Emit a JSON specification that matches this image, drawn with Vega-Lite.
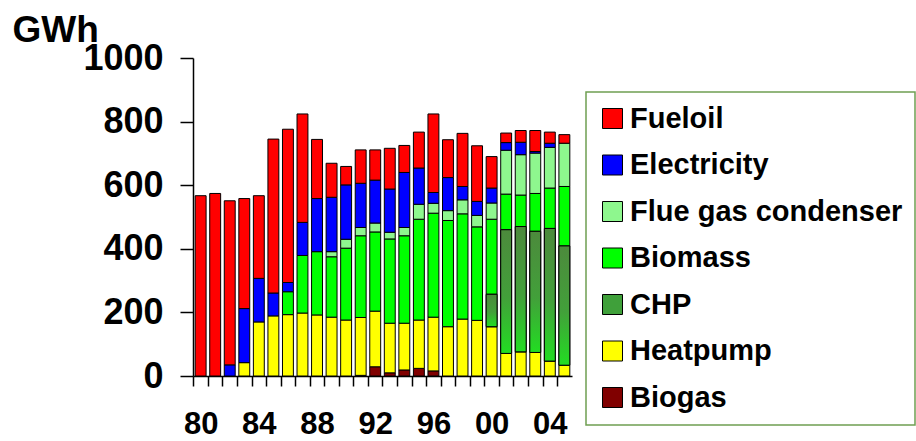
{
  "$schema": "https://vega.github.io/schema/vega-lite/v6.json",
  "width": 379,
  "height": 318,
  "autosize": "none",
  "padding": {"left": 193, "top": 58, "right": 344, "bottom": 65},
  "background": "white",
  "config": {
    "view": {"stroke": null},
    "font": "Liberation Sans",
    "legend": {"strokeWidth": 1.5}
  },
  "data": {
    "values": [
      {"year": 1980, "Biogas": 0, "Heatpump": 0, "CHP": 0, "Biomass": 0, "Flue gas condenser": 0, "Electricity": 0, "Fueloil": 567},
      {"year": 1981, "Biogas": 0, "Heatpump": 0, "CHP": 0, "Biomass": 0, "Flue gas condenser": 0, "Electricity": 0, "Fueloil": 574},
      {"year": 1982, "Biogas": 0, "Heatpump": 0, "CHP": 0, "Biomass": 0, "Flue gas condenser": 0, "Electricity": 35, "Fueloil": 516},
      {"year": 1983, "Biogas": 0, "Heatpump": 42, "CHP": 0, "Biomass": 0, "Flue gas condenser": 0, "Electricity": 170, "Fueloil": 346},
      {"year": 1984, "Biogas": 0, "Heatpump": 170, "CHP": 0, "Biomass": 0, "Flue gas condenser": 0, "Electricity": 137, "Fueloil": 260},
      {"year": 1985, "Biogas": 0, "Heatpump": 189, "CHP": 0, "Biomass": 0, "Flue gas condenser": 0, "Electricity": 72, "Fueloil": 484},
      {"year": 1986, "Biogas": 0, "Heatpump": 193, "CHP": 0, "Biomass": 72, "Flue gas condenser": 0, "Electricity": 29, "Fueloil": 482},
      {"year": 1987, "Biogas": 0, "Heatpump": 198, "CHP": 0, "Biomass": 181, "Flue gas condenser": 0, "Electricity": 104, "Fueloil": 341},
      {"year": 1988, "Biogas": 0, "Heatpump": 192, "CHP": 0, "Biomass": 199, "Flue gas condenser": 0, "Electricity": 167, "Fueloil": 186},
      {"year": 1989, "Biogas": 0, "Heatpump": 185, "CHP": 0, "Biomass": 190, "Flue gas condenser": 16, "Electricity": 171, "Fueloil": 107},
      {"year": 1990, "Biogas": 0, "Heatpump": 176, "CHP": 0, "Biomass": 226, "Flue gas condenser": 28, "Electricity": 171, "Fueloil": 58},
      {"year": 1991, "Biogas": 2, "Heatpump": 182, "CHP": 0, "Biomass": 257, "Flue gas condenser": 26, "Electricity": 139, "Fueloil": 105},
      {"year": 1992, "Biogas": 29, "Heatpump": 175, "CHP": 0, "Biomass": 249, "Flue gas condenser": 28, "Electricity": 135, "Fueloil": 95},
      {"year": 1993, "Biogas": 10, "Heatpump": 156, "CHP": 0, "Biomass": 265, "Flue gas condenser": 21, "Electricity": 136, "Fueloil": 128},
      {"year": 1994, "Biogas": 19, "Heatpump": 147, "CHP": 0, "Biomass": 275, "Flue gas condenser": 26, "Electricity": 173, "Fueloil": 85},
      {"year": 1995, "Biogas": 24, "Heatpump": 152, "CHP": 0, "Biomass": 317, "Flue gas condenser": 47, "Electricity": 114, "Fueloil": 113},
      {"year": 1996, "Biogas": 16, "Heatpump": 169, "CHP": 0, "Biomass": 327, "Flue gas condenser": 31, "Electricity": 34, "Fueloil": 247},
      {"year": 1997, "Biogas": 0, "Heatpump": 155, "CHP": 0, "Biomass": 334, "Flue gas condenser": 31, "Electricity": 104, "Fueloil": 119},
      {"year": 1998, "Biogas": 0, "Heatpump": 179, "CHP": 0, "Biomass": 331, "Flue gas condenser": 44, "Electricity": 42, "Fueloil": 167},
      {"year": 1999, "Biogas": 0, "Heatpump": 175, "CHP": 0, "Biomass": 294, "Flue gas condenser": 36, "Electricity": 44, "Fueloil": 175},
      {"year": 2000, "Biogas": 0, "Heatpump": 155, "CHP": 102, "Biomass": 236, "Flue gas condenser": 51, "Electricity": 47, "Fueloil": 99},
      {"year": 2001, "Biogas": 0, "Heatpump": 71, "CHP": 389, "Biomass": 112, "Flue gas condenser": 138, "Electricity": 24, "Fueloil": 30},
      {"year": 2002, "Biogas": 0, "Heatpump": 76, "CHP": 394, "Biomass": 99, "Flue gas condenser": 127, "Electricity": 39, "Fueloil": 37},
      {"year": 2003, "Biogas": 0, "Heatpump": 74, "CHP": 381, "Biomass": 119, "Flue gas condenser": 127, "Electricity": 5, "Fueloil": 66},
      {"year": 2004, "Biogas": 0, "Heatpump": 47, "CHP": 417, "Biomass": 127, "Flue gas condenser": 128, "Electricity": 13, "Fueloil": 35},
      {"year": 2005, "Biogas": 0, "Heatpump": 34, "CHP": 375, "Biomass": 187, "Flue gas condenser": 136, "Electricity": 0, "Fueloil": 27}
    ]
  },
  "transform": [
    {"fold": ["Biogas", "Heatpump", "CHP", "Biomass", "Flue gas condenser", "Electricity", "Fueloil"], "as": ["source", "gwh"]},
    {"filter": "datum.gwh > 0"},
    {"calculate": "indexof(['Biogas','Heatpump','CHP','Biomass','Flue gas condenser','Electricity','Fueloil'], datum.source)", "as": "k"},
    {"stack": "gwh", "groupby": ["year"], "sort": [{"field": "k", "order": "ascending"}], "as": ["y0", "y1"]}
  ],
  "encoding": {
    "x": {
      "field": "year",
      "type": "ordinal",
      "scale": {"paddingInner": 0.25, "paddingOuter": 0.15},
      "axis": {
        "title": null,
        "labelAngle": 0,
        "labelExpr": "datum.value % 4 == 0 ? slice(toString(datum.value), 2) : ''",
        "labelFont": "Liberation Sans",
        "labelFontSize": 31,
        "labelFontWeight": "bold",
        "labelColor": "black",
        "labelPadding": 23,
        "tickSize": 10,
        "tickColor": "black",
        "tickWidth": 1.5,
        "tickOffset": -7.3,
        "labelOffset": 7.3,
        "domainColor": "black",
        "domainWidth": 1.5
      }
    },
    "y": {
      "field": "y1",
      "type": "quantitative",
      "scale": {"domain": [0, 1000], "nice": false},
      "axis": {
        "title": "GWh",
        "titleAngle": 0,
        "titleX": -181,
        "titleY": -17,
        "titleAlign": "left",
        "titleBaseline": "alphabetic",
        "titleFont": "Liberation Sans",
        "titleFontSize": 37,
        "titleFontWeight": "bold",
        "titleColor": "black",
        "values": [0, 200, 400, 600, 800, 1000],
        "format": "d",
        "grid": false,
        "labelFont": "Liberation Sans",
        "labelFontSize": 36,
        "labelFontWeight": "bold",
        "labelColor": "black",
        "labelPadding": 17,
        "tickSize": 13,
        "tickColor": "black",
        "tickWidth": 1.5,
        "domainColor": "black",
        "domainWidth": 1.5
      }
    },
    "y2": {"field": "y0"}
  },
  "layer": [
    {
      "mark": {"type": "bar", "stroke": "black", "strokeWidth": 1},
      "encoding": {
        "color": {
          "field": "source",
          "type": "nominal",
          "scale": {
            "domain": ["Fueloil", "Electricity", "Flue gas condenser", "Biomass", "CHP", "Heatpump", "Biogas"],
            "range": ["#ff0000", "#0000ff", "#8ef78e", "#00ff00", "#3fa03a", "#ffff00", "#800000"]
          },
          "legend": {
            "title": null,
            "orient": "none",
            "legendX": 393,
            "legendY": 34,
            "padding": 12,
            "strokeColor": "#6f9f52",
            "fillColor": "white",
            "symbolType": "square",
            "symbolSize": 400,
            "symbolStrokeColor": "black",
            "symbolStrokeWidth": 1,
            "symbolOpacity": 1,
            "labelFont": "Liberation Sans",
            "labelFontSize": 29,
            "labelFontWeight": "bold",
            "labelColor": "black",
            "labelOffset": 3,
            "labelLimit": 400,
            "rowPadding": 16.5
          }
        }
      }
    },
    {
      "transform": [{"filter": "datum.source == 'CHP'"}],
      "mark": {
        "type": "bar",
        "stroke": "black",
        "strokeWidth": 1,
        "fill": {
          "gradient": "linear",
          "x1": 0, "y1": 0, "x2": 0, "y2": 1,
          "stops": [
            {"offset": 0, "color": "#4c8a3c"},
            {"offset": 0.55, "color": "#42a03a"},
            {"offset": 1, "color": "#22dd22"}
          ]
        }
      }
    }
  ]
}
